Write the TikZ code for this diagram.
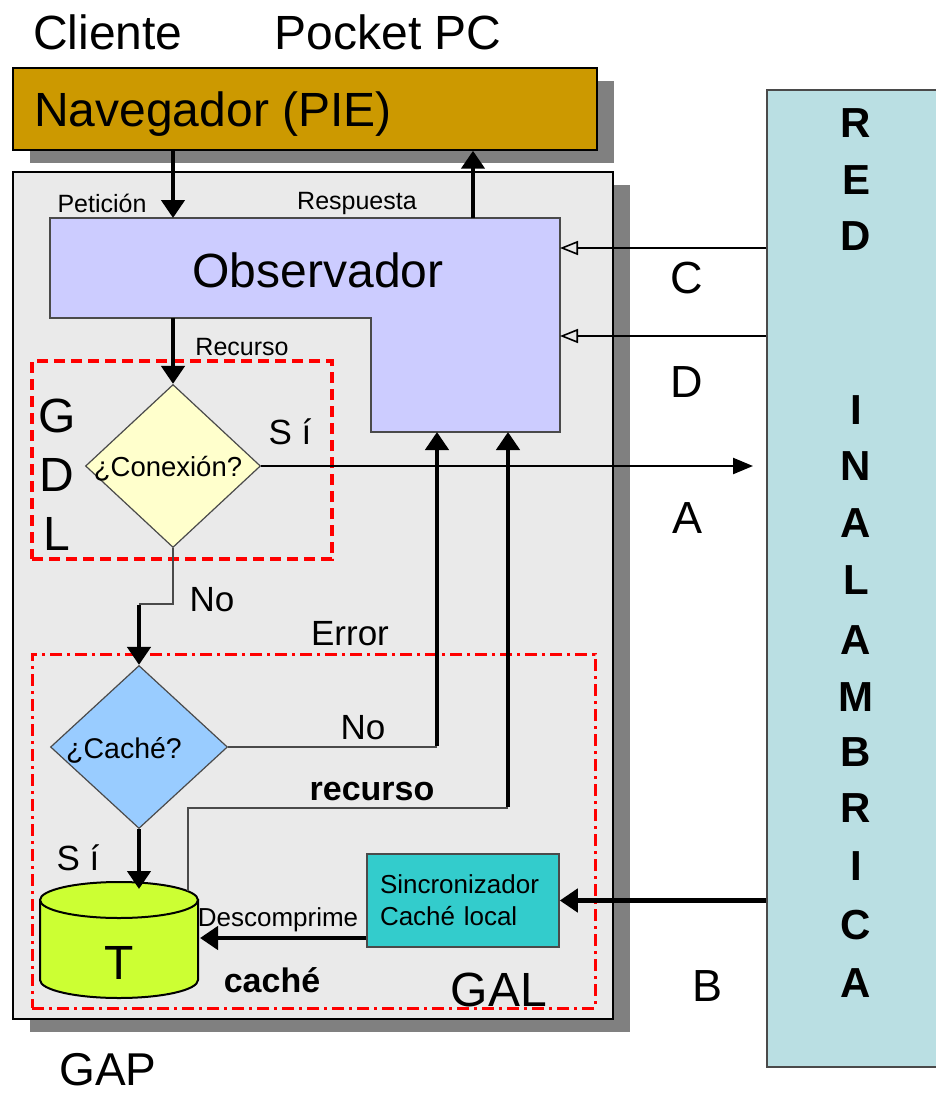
\documentclass[tikz,border=0pt]{standalone}
\usepackage{fontspec}
\setmainfont{Liberation Sans}
\usetikzlibrary{arrows.meta,shapes.geometric,shadows}

\definecolor{navc}{HTML}{CC9900}
\definecolor{gapc}{HTML}{EAEAEA}
\definecolor{shadowc}{HTML}{808080}
\definecolor{obsc}{HTML}{CCCCFF}
\definecolor{conc}{HTML}{FFFFCC}
\definecolor{cachec}{HTML}{99CCFF}
\definecolor{cylc}{HTML}{CCFF33}
\definecolor{syncc}{HTML}{33CCCC}
\definecolor{netc}{HTML}{BADFE3}
\definecolor{thinc}{HTML}{4A4A4A}
\definecolor{redc}{HTML}{FF0000}

\newcommand{\fsz}[1]{\fontsize{#1}{#1}\selectfont}

\begin{document}
\begin{tikzpicture}[x=1pt,y=-1pt,
  boxshadow/.style={general shadow={fill=shadowc, shadow xshift=17pt, shadow yshift=-13pt}},
  block/.style={draw=black, line width=1.5pt, inner sep=0pt},
  bigtxt/.style={font=\fsz{48}, inner sep=0pt},
  midtxt/.style={font=\fsz{35}, inner sep=0pt},
  boldtxt/.style={font=\bfseries\fsz{34}, inner sep=0pt},
  smalltxt/.style={font=\fsz{25}, inner sep=0pt},
  nettxt/.style={font=\bfseries\fsz{42}, inner sep=0pt},
  decision/.style={diamond, draw=thinc, line width=1.2pt, inner sep=0pt},
  thickarr/.style={line width=4.5pt, -{Triangle[length=18pt,width=23pt]}},
  thinline/.style={draw=thinc, line width=2pt},
  openarr/.style={line width=2.2pt, -{Triangle[open,length=18pt,width=14pt,line width=1.6pt]}},
  solidarr/.style={line width=2.4pt, -{Triangle[length=20pt,width=16pt]}},
  gdlbox/.style={draw=redc, line width=3.2pt, dash pattern=on 11pt off 6pt},
  galbox/.style={draw=redc, line width=3pt, dash pattern=on 12pt off 5pt on 3pt off 5pt}
]
\useasboundingbox (0,0) rectangle (935,1094);

% Main containers
\node[block, boxshadow, fill=gapc, minimum width=600pt, minimum height=847pt] (gap) at (313,595.5) {};
\node[block, boxshadow, fill=navc, minimum width=584pt, minimum height=82pt] (nav) at (305,109) {};
\node[draw=thinc, line width=1.5pt, fill=netc, minimum width=178pt, minimum height=977pt, inner sep=0pt] (net) at (856,578.5) {};

% Titles
\node[bigtxt] (cli) at (108,32) {Cliente};
\node[bigtxt] (ppc) at (388,32) {Pocket PC};
\node[bigtxt] (navtxt) at (213,114) {Navegador (PIE)};
\node[bigtxt, font=\fsz{46}] (gaptxt) at (108,1070) {GAP};

% Observer (L-shaped block)
\draw[draw=thinc, line width=1.5pt, fill=obsc]
  (50,218) -- (560,218) -- (560,432) -- (371,432) -- (371,318) -- (50,318) -- cycle;
\node[bigtxt] (obs) at (318,270) {Observador};
\coordinate (obsPet) at (173,218);
\coordinate (obsResp) at (473,218);
\coordinate (obsRec) at (173,318);
\coordinate (obsC) at (560,248);
\coordinate (obsD) at (560,336);
\coordinate (obsNo) at (437,432);
\coordinate (obsRes) at (508,432);

% Module frames
\node[gdlbox, minimum width=300pt, minimum height=198pt, inner sep=0pt] (gdl) at (182,460) {};
\node[galbox, minimum width=563pt, minimum height=354pt, inner sep=0pt] (gal) at (313.5,831) {};

% Decisions
\node[decision, fill=conc, minimum width=175pt, minimum height=163pt] (con) at (173,466) {};
\node[font=\fsz{27.5}, inner sep=0pt] (contxt) at (168,469) {¿Conexión?};
\node[decision, fill=cachec, minimum width=177pt, minimum height=163pt] (cache) at (139,747) {};
\node[font=\fsz{28.5}, inner sep=0pt] (cachetxt) at (124,750) {¿Caché?};

% Local cache store (cylinder)
\path[draw=black, line width=2pt, fill=cylc]
  (40,900) -- (40,980) arc[start angle=180, end angle=360, x radius=79pt, y radius=18pt] -- (198,900) -- cycle;
\draw[line width=2pt, fill=cylc] (119,900) ellipse[x radius=79pt, y radius=18pt];
\node[bigtxt] (cyl) at (119,963) {T};
\coordinate (cylTop) at (139,889);
\coordinate (cylRes) at (188,891);
\coordinate (cylR) at (200,938);

% Synchroniser
\node[draw=thinc, line width=1.5pt, fill=syncc, minimum width=192pt, minimum height=93pt,
      inner xsep=13pt, text width=166pt, align=left, font={\fontsize{26}{32}\selectfont}] (sync) at (463,900.5)
      {Sincronizador\\Caché local};

% Connectors
\draw[thickarr] (nav.south -| obsPet) -- (obsPet);
\draw[thickarr] (obsResp) -- (obsResp |- nav.south);
\draw[openarr] (obsC -| net.west) -- (obsC);
\draw[openarr] (obsD -| net.west) -- (obsD);
\draw[thickarr] (obsRec) -- (con.north);
\coordinate (aEnd) at (753,466);
\draw[solidarr] (con.east) -- (aEnd);
\coordinate (noBend) at (cache.north |- 0,604);
\draw[thinline] (con.south) |- (noBend);
\draw[thickarr] ([yshift=-1pt]noBend) -- (cache.north);
\coordinate (cnCorner) at (obsNo |- cache.east);
\draw[thinline] (cache.east) -- (cnCorner);
\draw[thickarr] ([yshift=1pt]cnCorner) -- (obsNo);
\coordinate (resCorner) at (cylRes |- 0,808);
\draw[thinline] (cylRes) -- (resCorner) -- (resCorner -| obsRes);
\draw[thickarr] ([yshift=1pt]resCorner -| obsRes) -- (obsRes);
\draw[thickarr] (cache.south) -- (cylTop);
\draw[thickarr] (cylR -| sync.west) -- (cylR);
\draw[thickarr] (sync.east -| net.west) -- (sync.east);

% Labels
\node[smalltxt] (lpet) at (102,203) {Petición};
\node[smalltxt] (lresp) at (357,203) {Respuesta};
\node[smalltxt] (lrec) at (242,347) {Recurso};
\node[bigtxt] (lg) at (57,416) {G};
\node[bigtxt] (ld) at (57,475) {D};
\node[bigtxt] (ll) at (57,534) {L};
\node[midtxt] (lsi1) at (290,432) {S í};
\node[midtxt] (lno1) at (212,600) {No};
\node[midtxt] (lerr) at (350,634) {Error};
\node[midtxt] (lno2) at (363,728) {No};
\node[boldtxt] (lres) at (372,792) {recurso};
\node[midtxt] (lsi2) at (78,858) {S í};
\node[smalltxt, font=\fsz{26}] (ldes) at (278,920) {Descomprime};
\node[boldtxt] (lcache) at (272,980) {caché};
\node[bigtxt] (lgal) at (499,990) {GAL};
\node[font=\fsz{45}, inner sep=0pt] (lc) at (687,278) {C};
\node[font=\fsz{45}, inner sep=0pt] (ld2) at (687,382) {D};
\node[font=\fsz{45}, inner sep=0pt] (la) at (687,518) {A};
\node[font=\fsz{45}, inner sep=0pt] (lb) at (707,986) {B};

% Network column
\foreach \ch/\yy [count=\i] in {R/123,E/180,D/236,I/410,N/466,A/523,L/580,A/640,M/697,B/752,R/808,I/866,C/925,A/983}
  \node[nettxt] (net\i) at (856,\yy) {\ch};
\end{tikzpicture}
\end{document}
